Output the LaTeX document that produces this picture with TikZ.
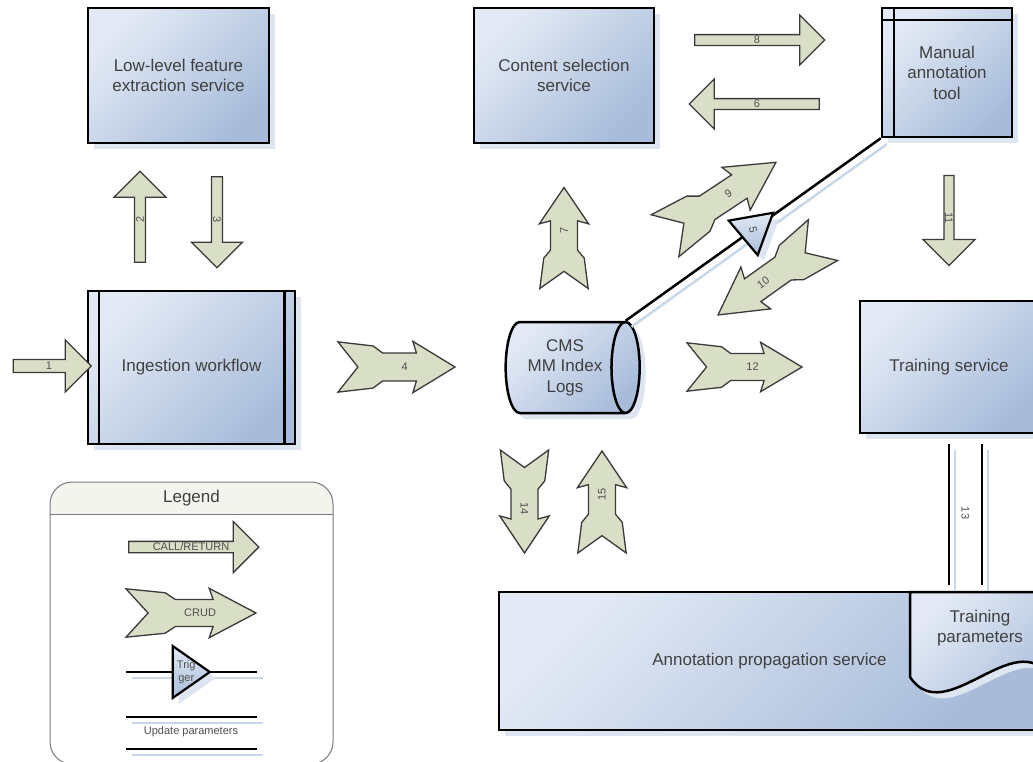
\documentclass[tikz,border=0pt]{standalone}
\usepackage{fontspec}
\setmainfont{Liberation Sans}
\usepackage{tikz}
\usetikzlibrary{shapes.arrows,shapes.geometric,shadows,positioning}

\definecolor{boxlight}{HTML}{E3EAF5}
\definecolor{boxdark}{HTML}{A8BCDA}
\definecolor{boxshadow}{HTML}{DDE5F1}
\definecolor{lineshadow}{HTML}{C9D7EB}
\definecolor{arrowfill}{HTML}{D9DEC7}
\definecolor{arrowline}{HTML}{3A3A3A}
\definecolor{textgray}{HTML}{404040}
\definecolor{numgray}{HTML}{505050}
\definecolor{legendhead}{HTML}{F4F4EE}
\definecolor{legendline}{HTML}{7A7A7A}

\begin{document}
\begin{tikzpicture}[
    x=1pt, y=-1pt,
    txt/.style={font=\fontsize{17}{20.5}\selectfont, text=textgray, align=center},
    num/.style={font=\fontsize{11}{12.5}\selectfont, text=numgray, inner sep=1pt,
                align=center},
    box/.style={txt, draw, line width=2.5pt, top color=boxlight,
                bottom color=boxdark, shading angle=45, inner sep=0pt,
                general shadow={fill=boxshadow, shadow xshift=6pt,
                                shadow yshift=-6pt}},
    cyl/.style={box, cylinder, aspect=0.5, shape border rotate=0},
    callret/.style={single arrow, single arrow head indent=0pt, num,
                    draw=arrowline, fill=arrowfill, line width=1.3pt,
                    inner sep=0pt},
    crudfill/.style={draw=arrowline, fill=arrowfill, line width=1.3pt},
    upd/.style={line width=2.5pt, preaction={draw=lineshadow, line width=2.5pt,
                transform canvas={shift={(6pt,-6pt)}}}},
    trig/.style={isosceles triangle, isosceles triangle apex angle=#1,
                 draw, line width=2.2pt, top color=boxlight,
                 bottom color=boxdark, inner sep=0pt,
                 general shadow={fill=boxshadow, shadow xshift=6pt,
                                 shadow yshift=-6pt}},
    trig/.default=70,
    legendbox/.style={draw=legendline, line width=1pt, fill=white,
                      rounded corners=22pt, minimum width=283pt,
                      minimum height=282pt,
                      path picture={
                        \fill[legendhead, sharp corners]
                          (path picture bounding box.north west) rectangle
                          ([yshift=-32pt]path picture bounding box.north east);
                        \draw[legendline, line width=1pt, sharp corners]
                          ([yshift=-32pt]path picture bounding box.north west) --
                          ([yshift=-32pt]path picture bounding box.north east);}},
    % CRUD arrow: length, half width, label, label angle
    pics/crud/.style n args={4}{code={
      \draw[crudfill] ({-.5*#1},{.93*#2}) -- ({-.2*#1},{.78*#2})
        -- ({-.12*#1},{.52*#2}) -- ({.17*#1},{.52*#2}) -- ({.14*#1},{.95*#2})
        -- ({.5*#1},0) -- ({.14*#1},{-.95*#2}) -- ({.17*#1},{-.52*#2})
        -- ({-.12*#1},{-.52*#2}) -- ({-.2*#1},{-.78*#2})
        -- ({-.5*#1},{-.93*#2}) -- ({-.33*#1},0) -- cycle;
      \node[num, rotate=#4] (-lbl) at ({.07*#1},0) {#3};
    }},
  ]
  \path[use as bounding box, clip] (0,0) rectangle (1033,761);
  \fill[white] (0,0) rectangle (1033,761);

  % services
  \node[box, minimum width=181pt, minimum height=135pt] (low) at (178.5,75.5)
    {Low-level feature\\extraction service};
  \node[box, minimum width=180pt, minimum height=135pt, right=202.5pt of low]
    (content) {Content selection\\service};
  \node[box, minimum width=130pt, minimum height=129pt] (manual) at (947,72.5)
    {Manual\\annotation\\tool};
  \draw[line width=2.5pt] ([xshift=13pt]manual.north west)
    -- ([xshift=13pt]manual.south west);
  \draw[line width=2.5pt] ([yshift=-13pt]manual.north west)
    -- ([yshift=-13pt]manual.north east);

  \node[box, minimum width=207pt, minimum height=153pt] (ingest)
    at (191.5,367.5) {Ingestion workflow};
  \draw[line width=2.5pt] ([xshift=12pt]ingest.north west)
    -- ([xshift=12pt]ingest.south west);
  \draw[line width=2.5pt] ([xshift=-12pt]ingest.north east)
    -- ([xshift=-12pt]ingest.south east);

  \node[cyl, minimum width=91pt, minimum height=134pt] (cms) at (565,367.5)
    {CMS\\MM Index\\Logs};
  \node[box, minimum width=178pt, minimum height=132pt] (train) at (949,367)
    {Training service};

  % propagation service with its parameters document
  \node[box, minimum width=541pt, minimum height=138pt] (annot) at (769.5,661)
    {Annotation propagation service};
  \draw[box] (910,592) -- (910,677) .. controls (945,730) and (1015,624)
    .. (1050,677) -- (1050,592) -- cycle;
  \node[txt] (params) at (980,628) {Training\\parameters};

  % trigger and parameter updates
  \draw[upd] (manual.south west) -- node[trig=60, rotate=-80,
    minimum height=39pt, pos=.5, label={[num, rotate=-80]center:5}] (t5) {}
    (cms.before top);
  \draw[upd] ([yshift=-10pt]train.south)
    -- ([yshift=6pt]train.south |- annot.north);
  \draw[upd] ([xshift=33pt,yshift=-10pt]train.south)
    -- ([xshift=33pt,yshift=6pt]train.south |- annot.north);
  \node[num, rotate=-90] (l13) at ([xshift=16.5pt]train.south |- 0,513) {13};

  % call / return
  \node[callret, minimum height=78pt, minimum width=52pt,
        single arrow head extend=13.5pt] (a1) at (49,366) {1};
  \node[callret, rotate=90, minimum height=91pt, minimum width=52pt,
        single arrow head extend=17pt] (a2) at (140,219.5) {2};
  \node[callret, rotate=-90, minimum height=91pt, minimum width=51pt,
        single arrow head extend=16.5pt] (a3) at (217,219.5) {3};
  \node[callret, minimum height=130pt, minimum width=50pt,
        single arrow head extend=16.5pt] (a8) at (757,40) {8};
  \node[callret, shape border rotate=180, minimum height=130pt,
        minimum width=50pt, single arrow head extend=16.5pt] (a6)
    at (757,104) {6};
  \node[callret, rotate=-90, minimum height=90pt, minimum width=52pt,
        single arrow head extend=18.5pt] (a11) at (949,218) {11};

  % CRUD
  \pic (a4) at (396.5,367) {crud={117}{27}{4}{0}};
  \pic (a12) at (744.5,367) {crud={115}{26}{12}{0}};
  \pic[rotate=90] (a7) at (564,238) {crud={101}{26}{7}{90}};
  \pic[rotate=-90] (a14) at (524.5,501.5) {crud={103}{26}{14}{-90}};
  \pic[rotate=90] (a15) at (602,502) {crud={102}{26}{15}{90}};
  \pic[rotate=33.5] (a9) at (720.5,199) {crud={133}{27}{9}{33.5}};
  \pic[rotate=215.5] (a10) at (770.5,277.5) {crud={129}{27}{10}{35.5}};

  % legend
  \node[legendbox] (legend) at (191.5,623) {};
  \node[txt] (legtitle) at (191.5,498) {Legend};
  \node[callret, minimum height=130pt, minimum width=51pt,
        single arrow head extend=16.5pt] (lcall) at (191,547) {CALL/RETURN};
  \pic (lcrud) at (191,613) {crud={130}{26}{CRUD}{0}};
  \coordinate (lt1) at (126,672);
  \coordinate (lt2) at (257,672);
  \draw[upd] (lt1) -- node[trig, minimum height=37pt, pos=.46,
    label={[num]center:Trig\\ger}] (ltrig) {} (lt2);
  \coordinate (lu1) at (126,717);
  \coordinate (lu2) at (257,717);
  \coordinate (lu3) at (126,749);
  \coordinate (lu4) at (257,749);
  \draw[upd] (lu1) -- (lu2);
  \draw[upd] (lu3) -- (lu4);
  \node[num] (lupd) at (191,732) {Update parameters};
\end{tikzpicture}
\end{document}
